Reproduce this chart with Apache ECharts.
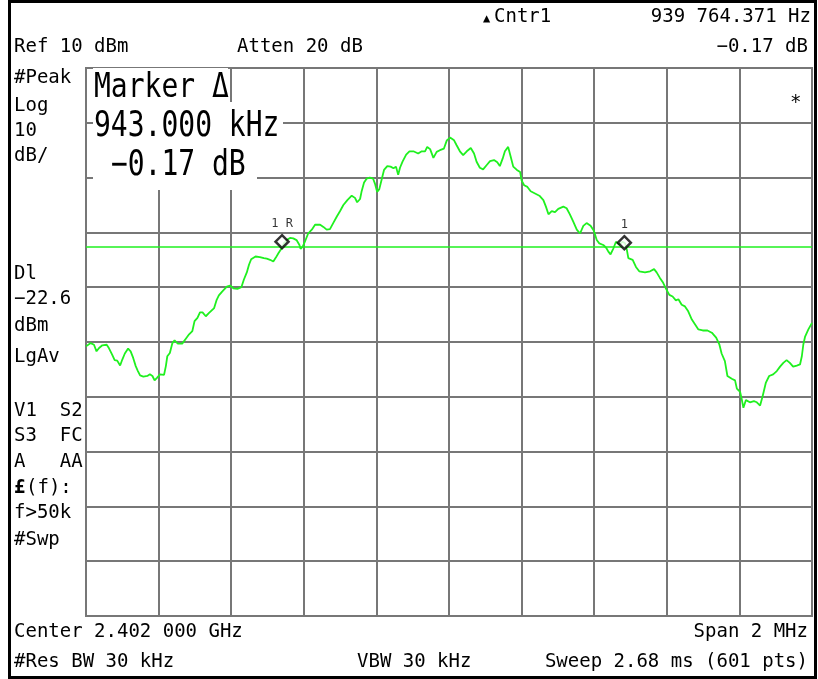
<!DOCTYPE html>
<html>
<head>
<meta charset="utf-8">
<title>Marker delta - spectrum</title>
<script src="https://cdn.jsdelivr.net/npm/echarts@6/dist/echarts.min.js"></script>
<style>
  html, body { margin: 0; padding: 0; background: #fff; }
  #chart { width: 818px; height: 679px; }
</style>
</head>
<body>
<div id="chart"></div>
<script>
const traceFreq = [
  -1000, -987, -978, -971, -964, -955, -943, -937, -928, -921,
  -914, -906, -900, -893, -884, -877, -870, -863, -857, -851,
  -842, -831, -824, -817, -811, -804, -796, -785, -780, -776,
  -769, -762, -756, -747, -735, -725, -716, -707, -701, -693,
  -686, -679, -670, -661, -647, -640, -634, -625, -612, -603,
  -594, -583, -572, -565, -557, -551, -545, -533, -521, -510,
  -502, -493, -484, -477, -470, -461, -455, -447, -438, -429,
  -420, -412, -409, -403, -397, -388, -378, -369, -355, -346,
  -337, -328, -319, -309, -300, -291, -280, -268, -259, -253,
  -245, -241, -234, -227, -218, -209, -204, -198, -192, -185,
  -179, -170, -161, -153, -146, -140, -135, -128, -118, -109,
  -98, -85, -75, -66, -60, -52, -43, -34, -25, -14,
  -6, 3, 14, 21, 30, 39, 49, 60, 69, 76,
  85, 94, 104, 113, 124, 133, 140, 148, 154, 163,
  170, 177, 187, 196, 200, 207, 216, 225, 237, 249,
  260, 267, 274, 283, 292, 301, 315, 324, 333, 342,
  352, 361, 370, 379, 390, 399, 407, 414, 425, 433,
  439, 445, 453, 460, 469, 478, 485, 490, 494, 506,
  515, 524, 540, 554, 565, 572, 581, 590, 598, 607,
  616, 625, 632, 641, 650, 659, 669, 678, 687, 699,
  712, 724, 736, 745, 751, 760, 767, 779, 788, 793,
  802, 806, 811, 818, 829, 840, 848, 857, 864, 873,
  882, 893, 903, 912, 921, 930, 939, 948, 958, 967,
  972, 976, 981, 990, 1000
]
const traceLevel = [
  -40.8, -40.2, -40.5, -41.7, -41.1, -40.6, -40.5, -41.1, -42.3, -43.3,
  -43.4, -44.3, -43.2, -42.1, -41.2, -41.7, -42.9, -44.4, -45.3, -46.1,
  -46.3, -46.2, -45.9, -46.2, -47.0, -46.5, -45.9, -46.0, -44.4, -42.6,
  -42.0, -40.2, -39.7, -40.3, -40.3, -39.4, -38.6, -38.0, -36.2, -35.6,
  -34.6, -34.6, -35.3, -34.7, -33.8, -32.3, -31.5, -30.8, -29.9, -29.7,
  -30.2, -30.3, -30.0, -28.6, -27.3, -25.9, -24.9, -24.4, -24.5, -24.7,
  -24.8, -25.0, -25.3, -24.6, -23.8, -22.9, -22.0, -21.4, -21.0, -21.1,
  -21.4, -22.3, -23.0, -22.6, -21.7, -20.2, -19.5, -18.6, -18.6, -19.0,
  -19.5, -19.4, -18.3, -17.1, -16.1, -15.0, -14.1, -13.3, -13.7, -14.5,
  -13.9, -12.6, -10.9, -10.2, -10.0, -10.2, -11.1, -12.6, -12.1, -10.2,
  -8.6, -7.9, -8.0, -8.3, -8.0, -9.5, -8.2, -7.1, -5.8, -5.2,
  -5.2, -5.6, -5.2, -5.2, -4.4, -4.8, -6.4, -5.3, -5.0, -4.7,
  -3.2, -2.7, -3.2, -4.1, -5.2, -5.9, -5.2, -4.6, -5.6, -7.1,
  -8.2, -8.5, -7.7, -7.0, -6.8, -7.2, -7.9, -6.5, -5.2, -4.4,
  -6.2, -8.0, -8.6, -9.0, -10.5, -11.4, -11.7, -12.5, -12.9, -13.3,
  -14.1, -15.3, -16.7, -16.1, -16.3, -15.7, -15.3, -15.6, -16.7, -18.0,
  -19.5, -20.2, -18.8, -18.3, -18.8, -19.7, -21.4, -22.0, -22.3, -22.8,
  -23.5, -24.0, -22.9, -21.7, -22.2, -21.7, -22.0, -23.2, -24.7, -25.0,
  -26.3, -27.1, -27.3, -27.1, -26.7, -27.3, -28.3, -29.2, -30.3, -31.4,
  -31.7, -32.4, -32.2, -33.2, -33.5, -34.4, -35.9, -36.8, -37.7, -37.9,
  -37.9, -38.3, -39.2, -40.5, -42.1, -43.5, -46.2, -46.7, -47.0, -48.5,
  -49.1, -50.3, -52.0, -50.6, -51.0, -50.8, -51.0, -51.6, -49.9, -47.4,
  -46.2, -45.9, -45.3, -44.5, -43.8, -43.3, -43.8, -44.5, -44.3, -44.1,
  -42.6, -40.5, -39.0, -37.7, -36.5
]

const displayLine = -22.6
const markerNames = ['1 R', '1']
const markerFreq = [-460, 483]
const markerLevel = [-21.7, -21.87]

// annotation texts
const headerTop = ['Cntr1', '939 764.371 Hz']
const headerRow = ['Ref 10 dBm', 'Atten 20 dB', '\u22120.17 dB']
const markerReadout = ['Marker \u0394', '943.000 kHz', ' \u22120.17 dB']
const sideTop = ['#Peak', 'Log', '10', 'dB/']
const sideMid = ['Dl', '\u221222.6', 'dBm', 'LgAv']
const sideLow = ['V1  S2', 'S3  FC', 'A   AA', '', 'f>50k', '#Swp']
const footer = ['Center 2.402 000 GHz', 'Span 2 MHz', '#Res BW 30 kHz', 'VBW 30 kHz', 'Sweep 2.68 ms (601 pts)']

const FONT = '"DejaVu Sans Mono", "Liberation Mono", monospace'
const GREEN = '#1ff01f'
const GRID = '#777777'

const txt = (text, x, y, o = {}) => ({
  type: 'text', x, y, z: 100, silent: true,
  scaleY: o.scaleY || 1,
  style: {
    text,
    fill: '#000',
    font: `${o.weight || 'normal'} ${o.size || 19}px ${FONT}`,
    textAlign: o.align || 'left', align: o.align || 'left',
    textVerticalAlign: 'middle', verticalAlign: 'middle'
  }
})
const box = (x, y, w, h) => ({
  type: 'rect', z: 90, silent: true,
  shape: { x, y, width: w, height: h },
  style: { fill: '#fff' }
})

const graphics = [
  // outer frame
  { type: 'rect', z: 100, silent: true, shape: { x: 9.5, y: 1.5, width: 806, height: 676 },
    style: { fill: 'none', stroke: '#000', lineWidth: 3 } },
  txt('\u25B2', 483, 19, { size: 12 }),
  txt(headerTop[0], 494, 17),
  txt(headerTop[1], 811, 17, { align: 'right' }),
  txt(headerRow[0], 14, 47),
  txt(headerRow[1], 237, 47),
  txt(headerRow[2], 808, 47, { align: 'right' }),
  // marker readout, white boxes hide the graticule
  box(93, 68, 135, 34),
  box(93, 102, 190, 38),
  box(93, 140, 164, 50),
  txt(markerReadout[0], 94, 88, { size: 28, scaleY: 1.2 }),
  txt(markerReadout[1], 94, 127, { size: 28, scaleY: 1.25 }),
  txt(markerReadout[2], 94, 166, { size: 28, scaleY: 1.25 }),
  txt('*', 790, 103),
  txt(footer[0], 14, 632),
  txt(footer[1], 808, 632, { align: 'right' }),
  txt(footer[2], 14, 662),
  txt(footer[3], 357, 662),
  txt(footer[4], 808, 662, { align: 'right' }),
  txt('\u00A3', 14, 488, { weight: 'bold' }),
  txt('(f):', 26, 488)
]
sideTop.forEach((s, i) => graphics.push(txt(s, 14, [78, 106, 131, 156][i])))
sideMid.forEach((s, i) => graphics.push(txt(s, 14, [274, 299, 326, 357][i])))
sideLow.forEach((s, i) => s && graphics.push(txt(s, 14, [411, 436, 462, 488, 513, 540][i])))

const chart = echarts.init(document.getElementById('chart'))
chart.setOption({
  animation: false,
  backgroundColor: '#fff',
  grid: { left: 86, top: 68, width: 726, height: 548, show: true, borderColor: GRID, borderWidth: 2, backgroundColor: '#fff' },
  xAxis: {
    type: 'value', min: -1000, max: 1000, interval: 200,
    axisLabel: { show: false }, axisTick: { show: false }, axisLine: { show: false },
    splitLine: { show: true, lineStyle: { color: GRID, width: 2 } }
  },
  yAxis: {
    type: 'value', min: -90, max: 10, interval: 10,
    axisLabel: { show: false }, axisTick: { show: false }, axisLine: { show: false },
    splitLine: { show: true, lineStyle: { color: GRID, width: 2 } }
  },
  series: [
    {
      type: 'line',
      data: traceFreq.map((f, i) => [f, traceLevel[i]]),
      showSymbol: false,
      lineStyle: { color: GREEN, width: 1.8 },
      markLine: {
        silent: true, symbol: 'none', label: { show: false },
        lineStyle: { color: GREEN, width: 1.6, type: 'solid' },
        data: [{ yAxis: displayLine }]
      },
      z: 3
    },
    {
      type: 'scatter',
      data: markerFreq.map((f, i) => ({ name: markerNames[i], value: [f, markerLevel[i]] })),
      symbol: 'diamond',
      symbolSize: 13,
      itemStyle: { color: '#fff', borderColor: '#000', borderWidth: 2.5 },
      label: {
        show: true, position: 'top', distance: 4, formatter: p => p.name,
        color: '#000', fontSize: 12, fontFamily: FONT
      },
      z: 5
    }
  ],
  graphic: graphics
})
</script>
</body>
</html>
